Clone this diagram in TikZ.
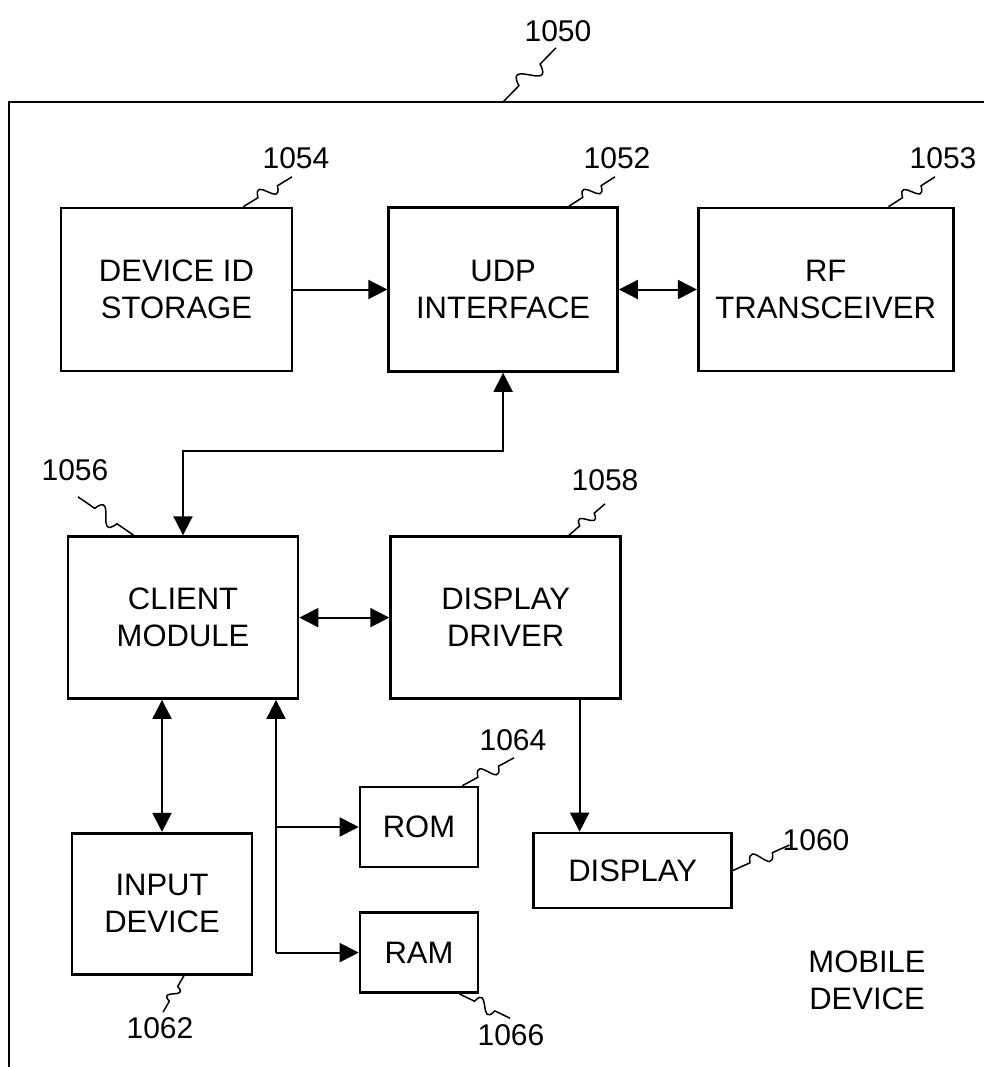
\documentclass[tikz,border=0pt]{standalone}
\usepackage{fontspec}
\setmainfont{Liberation Sans}
\usetikzlibrary{arrows.meta,positioning,calc}

\begin{document}
\begin{tikzpicture}[x=1pt, y=-1pt, node distance=90pt, every node/.style={font=\fontsize{31}{37}\selectfont}, box/.style={draw, line width=2.6pt, align=center, inner sep=0pt}, num/.style={font=\fontsize{30}{36}\selectfont, inner sep=0pt}, arrow/.style={-{Triangle[length=19pt, width=19pt]}, line width=2pt}, twoway/.style={{Triangle[length=19pt, width=19pt]}-{Triangle[length=19pt, width=19pt]}, line width=2pt}, lead/.style={line width=1.5pt, to path={-- ($(\tikztostart)!.3!(\tikztotarget)$) .. controls ($(\tikztostart)!.43!(\tikztotarget)!.7!90:(\tikztotarget)$) and ($(\tikztostart)!.57!(\tikztotarget)!.7!90:(\tikztostart)$) .. ($(\tikztostart)!.7!(\tikztotarget)$) -- (\tikztotarget)}}]
\useasboundingbox (0,0) rectangle (984,1067);
\draw[line width=2.6pt] (9,1067) -- (9,102) -- (984,102);
\coordinate (edge) at (503,102);
\node[box, minimum width=231pt, minimum height=163pt] (devid) at (176.5,289.5) {DEVICE ID\\STORAGE};
\node[box, minimum width=229pt, minimum height=164pt, right=94pt of devid] (udp) {UDP\\INTERFACE};
\node[box, minimum width=255pt, minimum height=163pt, right=78pt of udp] (rf) {RF\\TRANSCEIVER};
\node[box, minimum width=230pt, minimum height=162pt, below=163pt of devid, xshift=6.5pt] (client) {CLIENT\\MODULE};
\node[box, minimum width=230pt, minimum height=162pt, right=90pt of client] (driver) {DISPLAY\\DRIVER};
\node[box, minimum width=180pt, minimum height=141pt, below=132pt of client, xshift=-21pt] (input) {INPUT\\DEVICE};
\node[box, minimum width=118pt, minimum height=80pt] (rom) at (419,827) {ROM};
\node[box, minimum width=118pt, minimum height=80pt, below=43pt of rom] (ram) {RAM};
\node[box, minimum width=198pt, minimum height=75pt, right=53pt of rom, yshift=-43.5pt] (display) {DISPLAY};
\node[align=center] (mobile) at (867,980) {MOBILE\\DEVICE};
% reference numerals
\node[num] (n1050) at (558,31) {1050};
\node[num] (n1054) at (296,158) {1054};
\node[num] (n1052) at (617,158) {1052};
\node[num] (n1053) at (943,158) {1053};
\node[num] (n1056) at (75,470) {1056};
\node[num] (n1058) at (605,480) {1058};
\node[num] (n1064) at (513,740) {1064};
\node[num] (n1060) at (816,840) {1060};
\node[num] (n1062) at (160,1028) {1062};
\node[num] (n1066) at (511,1035) {1066};
% connections
\draw[arrow] (devid.east) -- (devid.east -| udp.west);
\draw[twoway] (udp.east) -- (udp.east -| rf.west);
\draw[twoway] (client.north) -- ++(0,-84) -| (udp.south);
\draw[twoway] (client.east) -- (client.east -| driver.west);
\draw[twoway] (input.north) -- (input.north |- client.south);
\coordinate (tap) at ([xshift=93pt]client.south);
\draw[arrow] (tap |- ram.west) -- (tap);
\draw[arrow] (tap |- rom.west) -- (rom.west);
\draw[arrow] (tap |- ram.west) -- (ram.west);
\coordinate (drop) at ([xshift=74pt]driver.south);
\draw[arrow] (drop) -- (drop |- display.north);
% leaders
\draw[lead] (edge) to ([xshift=-2pt,yshift=-6pt]n1050.south);
\draw[lead] ([xshift=-50pt]devid.north east) to ([xshift=-4pt,yshift=-8pt]n1054.south);
\draw[lead] ([xshift=-50pt]udp.north east) to ([xshift=-2pt,yshift=-8pt]n1052.south);
\draw[lead] ([xshift=-66pt]rf.north east) to ([xshift=-8pt,yshift=-8pt]n1053.south);
\draw[lead] ([xshift=3pt,yshift=-16pt]n1056.south) to ([xshift=67pt]client.north west);
\draw[lead] ([xshift=-53pt]driver.north east) to ([yshift=-13pt]n1058.south);
\draw[lead] ([xshift=-17pt]rom.north east) to ([xshift=1pt,yshift=-7pt]n1064.south);
\draw[lead] ([xshift=-20pt]ram.south east) to ([xshift=-1pt,yshift=6pt]n1066.north);
\draw[lead] (display.east) to ([xshift=7pt,yshift=-5pt]n1060.west);
\draw[lead] ([xshift=22pt]input.south) to ([xshift=3pt,yshift=5pt]n1062.north);
\end{tikzpicture}
\end{document}
